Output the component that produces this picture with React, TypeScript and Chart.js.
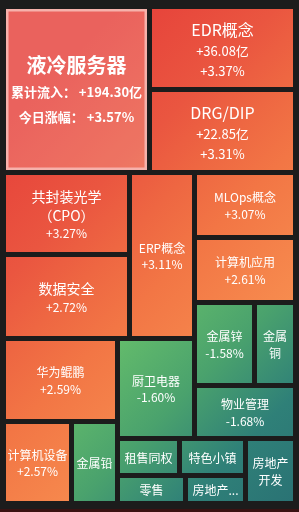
import React, { useEffect, useRef } from 'react';
import { Chart, registerables } from 'chart.js';

Chart.register(...registerables);

// ---------- data ----------
const names = [
  '液冷服务器', 'EDR概念', 'DRG/DIP', '共封装光学（CPO）', 'ERP概念',
  'MLOps概念', '数据安全', '计算机应用', '华为鲲鹏', '计算机设备',
  '金属铅', '厨卫电器', '金属锌', '金属铜', '物业管理',
  '租售同权', '特色小镇', '零售', '房地产开发', '房地产服务',
];
const sizes = [
  241.6, 121.2, 120.5, 104.0, 108.2,
  65.7, 105.8, 65.7, 94.6, 55.8,
  37.7, 77.0, 49.8, 34.0, 54.0,
  22.9, 24.4, 19.0, 32.5, 16.8,
];
const changes = [
  3.57, 3.37, 3.31, 3.27, 3.11,
  3.07, 2.72, 2.61, 2.59, 2.57,
  -1.62, -1.6, -1.58, -1.65, -1.68,
  -1.75, -1.8, -1.78, -2.1, -1.95,
];
const inflows: (number | null)[] = [
  194.3, 36.08, 22.85, null, null,
  null, null, null, null, null,
  null, null, null, null, null,
  null, null, null, null, null,
];
const selectedIndex = 0;
const inflowLabel = '累计流入：';
const changeLabel = '今日涨幅：';

// grouping of the cells (which cells share a strip); sizes come from the values
type LNode = number | { dir: 'row' | 'col' | 'pin'; kids: LNode[] };
const layoutTree: LNode = {
  dir: 'col',
  kids: [
    { dir: 'row', kids: [0, { dir: 'col', kids: [1, 2] }] },
    {
      dir: 'pin',
      kids: [
        { dir: 'row', kids: [{ dir: 'col', kids: [3, 6] }, 4] },
        { dir: 'col', kids: [5, 7, { dir: 'row', kids: [12, 13] }, 14] },
        {
          dir: 'row',
          kids: [
            { dir: 'col', kids: [{ dir: 'row', kids: [15, 16] }, { dir: 'row', kids: [17, 19] }] },
            18,
          ],
        },
        { dir: 'col', kids: [8, { dir: 'row', kids: [9, 10] }] },
        11,
      ],
    },
  ],
};

// ---------- layout ----------
type Rect = { x: number; y: number; w: number; h: number };

function total(n: LNode): number {
  if (typeof n === 'number') return sizes[n];
  return n.kids.reduce((s, k) => s + total(k), 0);
}

function lay(n: LNode, r: Rect, out: Rect[]) {
  if (typeof n === 'number') {
    out[n] = r;
    return;
  }
  const T = total(n);
  if (n.dir === 'row') {
    let x = r.x;
    n.kids.forEach((k) => {
      const w = (r.w * total(k)) / T;
      lay(k, { x, y: r.y, w, h: r.h }, out);
      x += w;
    });
  } else if (n.dir === 'col') {
    let y = r.y;
    n.kids.forEach((k) => {
      const h = (r.h * total(k)) / T;
      lay(k, { x: r.x, y, w: r.w, h }, out);
      y += h;
    });
  } else {
    // pinwheel: [topLeft, topRight, bottomRight, bottomLeft, center]
    const scale = (r.w * r.h) / T;
    const [A, B, , C, D] = n.kids.map((k) => total(k) * scale);
    const W = r.w, H = r.h;
    const calc = (xa: number) => {
      const ya = A / xa;
      const yb = B / (W - xa);
      const xc = C / (H - ya);
      return { ya, yb, xc, d: (xa - xc) * (yb - ya) };
    };
    let lo = A / H + 1e-6, hi = W - B / H - 1e-6;
    for (let i = 0; i < 80; i++) {
      const mid = (lo + hi) / 2;
      if (calc(mid).d < D) lo = mid; else hi = mid;
    }
    const xa = (lo + hi) / 2;
    const { ya, yb, xc } = calc(xa);
    lay(n.kids[0], { x: r.x, y: r.y, w: xa, h: ya }, out);
    lay(n.kids[1], { x: r.x + xa, y: r.y, w: W - xa, h: yb }, out);
    lay(n.kids[2], { x: r.x + xc, y: r.y + yb, w: W - xc, h: H - yb }, out);
    lay(n.kids[3], { x: r.x, y: r.y + ya, w: xc, h: H - ya }, out);
    lay(n.kids[4], { x: r.x + xc, y: r.y + ya, w: xa - xc, h: yb - ya }, out);
  }
}

// ---------- text helpers ----------
const FONT = '"Noto Sans CJK SC", "Noto Sans", sans-serif';

function splitTokens(s: string): string[] {
  const raw: string[] = [];
  let buf = '';
  for (const ch of Array.from(s)) {
    if (/[A-Za-z0-9.\-+%\/]/.test(ch)) buf += ch;
    else {
      if (buf) { raw.push(buf); buf = ''; }
      raw.push(ch);
    }
  }
  if (buf) raw.push(buf);
  const out: string[] = [];
  let pending = '';
  for (const t of raw) {
    if (t === '（' || t === '(') { pending += t; continue; }
    if ((t === '）' || t === ')') && out.length && !pending) { out[out.length - 1] += t; continue; }
    out.push(pending + t);
    pending = '';
  }
  if (pending) out.push(pending);
  return out;
}

function wrap(ctx: CanvasRenderingContext2D, s: string, maxW: number): string[] {
  const lines: string[] = [];
  let cur = '';
  for (const t of splitTokens(s)) {
    if (ctx.measureText(cur + t).width <= maxW) { cur += t; continue; }
    if (cur) { lines.push(cur); cur = ''; }
    if (ctx.measureText(t).width <= maxW) { cur = t; continue; }
    for (const ch of Array.from(t)) {
      if (cur && ctx.measureText(cur + ch).width > maxW) { lines.push(cur); cur = ch; }
      else cur += ch;
    }
  }
  if (cur) lines.push(cur);
  return lines;
}

const fmtPct = (v: number) => (v >= 0 ? '+' : '') + v.toFixed(2) + '%';
const fmtFlow = (v: number) => (v >= 0 ? '+' : '') + v.toFixed(2) + '亿';

// ---------- plugin ----------
const treemapPlugin = {
  id: 'treemapCells',
  afterDatasetsDraw(chart: any) {
    const ctx: CanvasRenderingContext2D = chart.ctx;
    const xs = chart.scales.x;
    const ys = chart.scales.y;
    const X0 = xs.getPixelForValue(0), X1 = xs.getPixelForValue(1);
    const Y0 = ys.getPixelForValue(0), Y1 = ys.getPixelForValue(1);
    const W = X1 - X0, H = Y1 - Y0;
    const rects: Rect[] = [];
    lay(layoutTree, { x: 0, y: 0, w: W, h: H }, rects);

    const D = (W + H) / 2;
    const red = ctx.createLinearGradient(X0, Y0, X0 + D, Y0 + D);
    red.addColorStop(0.15, '#e6403a');
    red.addColorStop(0.35, '#ea5640');
    red.addColorStop(0.45, '#ee6742');
    red.addColorStop(0.55, '#f27645');
    red.addColorStop(0.75, '#f78d4f');
    const green = ctx.createLinearGradient(X0, Y0, X0 + D, Y0 + D);
    green.addColorStop(0.55, '#66be6b');
    green.addColorStop(0.72, '#4aa26d');
    green.addColorStop(0.86, '#2f8078');
    green.addColorStop(1.0, '#2a7274');

    const half = 2.5;
    ctx.save();
    rects.forEach((r, i) => {
      const px0 = Math.round(xs.getPixelForValue(r.x / W) + half);
      const px1 = Math.round(xs.getPixelForValue((r.x + r.w) / W) - half);
      const py0 = Math.round(ys.getPixelForValue(r.y / H) + half);
      const py1 = Math.round(ys.getPixelForValue((r.y + r.h) / H) - half);
      const w = px1 - px0, h = py1 - py0;
      ctx.fillStyle = changes[i] >= 0 ? red : green;
      ctx.fillRect(px0, py0, w, h);
      if (i === selectedIndex) {
        ctx.fillStyle = 'rgba(255,255,255,0.18)';
        ctx.fillRect(px0, py0, w, h);
        ctx.strokeStyle = '#f6b1ab';
        ctx.lineWidth = 2.5;
        ctx.strokeRect(px0 + 1.25, py0 + 1.25, w - 2.5, h - 2.5);
      }

      // labels
      type Line = { text: string; font: string; lh: number };
      const lines: Line[] = [];
      if (i === selectedIndex) {
        lines.push({ text: names[i], font: `bold 20px ${FONT}`, lh: 29 });
        if (inflows[i] !== null) lines.push({ text: inflowLabel + ' ' + fmtFlow(inflows[i] as number), font: `bold 13px ${FONT}`, lh: 25 });
        lines.push({ text: changeLabel + ' ' + fmtPct(changes[i]), font: `bold 13px ${FONT}`, lh: 25 });
      } else {
        const fs = w >= 135 ? 16 : w >= 115 ? 14 : 12;
        const big = fs >= 16;
        const lhName = big ? fs * 1.5 : fs * 1.36;
        const subFs = big ? 13 : 12;
        const lhSub = big ? subFs * 1.5 : subFs * 1.4;
        const availW = w - 0.5, availH = h - 4;
        const nameFont = `${fs}px ${FONT}`;
        ctx.font = nameFont;
        let nl = wrap(ctx, names[i], availW);
        const maxLines = Math.max(1, Math.floor(availH / lhName));
        if (nl.length > maxLines) {
          const ell = '...';
          const ellW = ctx.measureText(ell).width;
          nl = wrap(ctx, names[i], availW - ellW).slice(0, maxLines);
          nl[nl.length - 1] += ell;
        }
        nl.forEach((t) => lines.push({ text: t, font: nameFont, lh: lhName }));
        const subFont = `${subFs}px ${FONT}`;
        ctx.font = subFont;
        const extras: string[] = [];
        if (inflows[i] !== null) extras.push(fmtFlow(inflows[i] as number));
        extras.push(fmtPct(changes[i]));
        let used = lines.reduce((s, l) => s + l.lh, 0);
        for (const t of extras) {
          if (ctx.measureText(t).width > w - 8 || used + lhSub > availH) break;
          lines.push({ text: t, font: subFont, lh: lhSub });
          used += lhSub;
        }
      }
      const totalH = lines.reduce((s, l) => s + l.lh, 0);
      let y = py0 + h / 2 - totalH / 2 + 1;
      ctx.fillStyle = '#ffffff';
      ctx.textAlign = 'center';
      ctx.textBaseline = 'middle';
      const cx = px0 + w / 2;
      lines.forEach((l) => {
        ctx.font = l.font;
        ctx.fillText(l.text, cx, y + l.lh / 2);
        y += l.lh;
      });
    });
    ctx.restore();
  },
};

export default function App() {
  const ref = useRef<HTMLCanvasElement | null>(null);
  useEffect(() => {
    if (!ref.current) return;
    const chart = new Chart(ref.current, {
      type: 'scatter',
      data: { datasets: [{ data: [], pointRadius: 0 }] },
      options: {
        animation: false,
        responsive: false,
        devicePixelRatio: 1,
        layout: { padding: { left: 3.5, right: 3.5, top: 6.5, bottom: 8.5 } },
        scales: {
          x: { type: 'linear', min: 0, max: 1, display: false },
          y: { type: 'linear', min: 0, max: 1, reverse: true, display: false },
        },
        plugins: { legend: { display: false }, tooltip: { enabled: false } },
      },
      plugins: [treemapPlugin as any],
    });
    return () => chart.destroy();
  }, []);
  return (
    <div style={{ position: 'fixed', left: 0, top: 0, width: 299, height: 512, background: '#1c1c1c', overflow: 'hidden' }}>
      <canvas ref={ref} width={299} height={512} style={{ display: 'block', width: 299, height: 512 }} />
      <div style={{ position: 'absolute', left: 0, top: 509, width: 299, height: 3, background: '#3a1212' }} />
    </div>
  );
}
